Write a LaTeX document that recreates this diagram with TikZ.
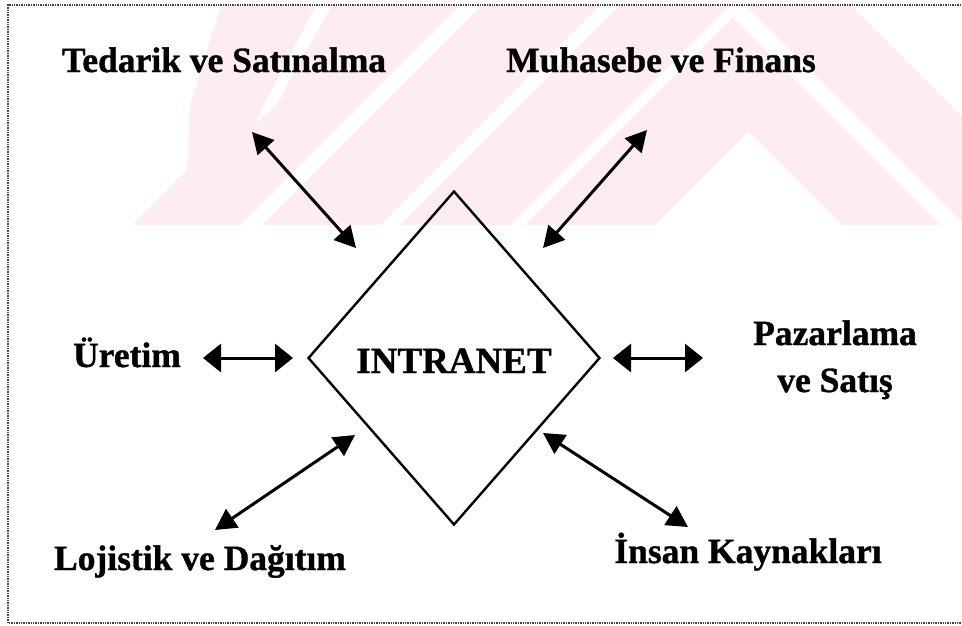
\documentclass[tikz,border=0pt]{standalone}
\usepackage{fontspec}
\setmainfont{Liberation Serif}[BoldFeatures={FakeBold=1}]
\usetikzlibrary{arrows.meta,shapes.geometric}
\definecolor{wmpink}{RGB}{253,237,240}
\definecolor{framegray}{RGB}{70,70,70}
\tikzset{
  lbl/.style={font=\fontsize{35.5}{40}\selectfont\bfseries, anchor=base, inner sep=0pt},
  dlink/.style={line width=3pt, {Triangle[length=21pt,width=22pt]}-{Triangle[length=21pt,width=22pt]}},
  hlink/.style={line width=3pt, {Triangle[length=18pt,width=28pt]}-{Triangle[length=18pt,width=28pt]}},
  hub/.style={diamond, draw, line width=2.4pt, minimum width=292pt, minimum height=334pt,
    inner sep=0pt, font=\fontsize{37}{40}\selectfont\bfseries, text height=30pt, text depth=0pt},
  wm/.style={fill=wmpink, draw=none},
}
\begin{document}
\begin{tikzpicture}[x=1pt,y=-1pt]
\useasboundingbox (0,0) rectangle (962,625);
% watermark (faint background logo)
\begin{scope}
\clip (8,5) rectangle (962,225);
\fill[wm] (221,5) -- (460,5) -- (240,225) -- (132,225) -- (187,170) -- (190,105) -- cycle;
\fill[white] (316,5) -- (332,5) -- (276,105) -- (255,124) -- (264,105) -- cycle;
\fill[wm] (482,5) -- (600,5) -- (380,225) -- (262,225) -- cycle;
\fill[wm] (620,5) -- (730,5) -- (510,225) -- (400,225) -- cycle;
\fill[wm] (745,5) -- (850,5) -- (1070,225) -- (965,225) -- cycle;
\fill[wm] (732.5,17.5) -- (525,225) -- (655,225) -- (748.5,131.5) -- (842,225) -- (940,225) -- cycle;
\end{scope}
% frame
\draw[framegray, line width=1.4pt, densely dotted] (961,5) -- (8,5) -- (8,623) -- (961,623);
% hub
\node[hub] (intranet) at (454,358) {INTRANET};
% labels
\node[lbl] (tedarik) at (224,72) {Tedarik ve Satınalma};
\node[lbl] (muhasebe) at (661,72) {Muhasebe ve Finans};
\node[lbl] (uretim) at (127,367) {Üretim};
\node[lbl] (pazarlama) at (835,345) {Pazarlama};
\node[lbl] (satis) at (835,392) {ve Satış};
\node[lbl] (lojistik) at (200,570) {Lojistik ve Dağıtım};
\node[lbl] (insan) at (748,563) {İnsan Kaynakları};
% connector ends
\coordinate (tA) at (252,132); \coordinate (tB) at (356,248);
\coordinate (mA) at (647,130); \coordinate (mB) at (543,248);
\coordinate (uA) at (203,358); \coordinate (uB) at (293,358);
\coordinate (pA) at (613,358); \coordinate (pB) at (703,358);
\coordinate (lA) at (355,435); \coordinate (lB) at (215,530);
\coordinate (iA) at (543,433); \coordinate (iB) at (688,527);
% connectors
\draw[dlink] (tA) -- (tB);
\draw[dlink] (mA) -- (mB);
\draw[hlink] (uA) -- (uB);
\draw[hlink] (pA) -- (pB);
\draw[dlink] (lA) -- (lB);
\draw[dlink] (iA) -- (iB);
\end{tikzpicture}
\end{document}
